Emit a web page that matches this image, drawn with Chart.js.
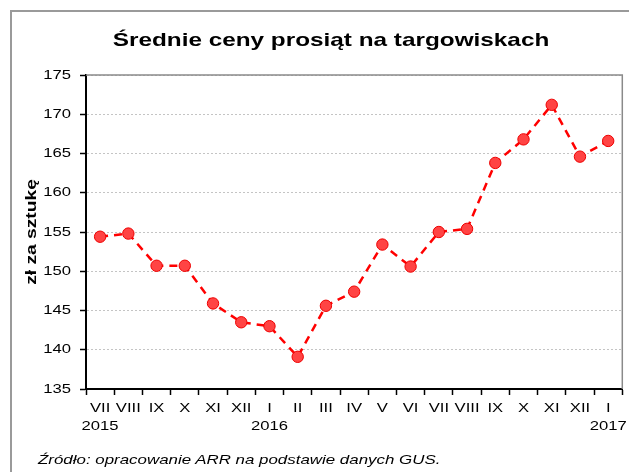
<!DOCTYPE html>
<html>
<head>
<meta charset="utf-8">
<script src="https://cdn.jsdelivr.net/npm/chart.js@4"></script>
<style>
  html, body { margin: 0; padding: 0; background: #fff; }
  body { width: 629px; height: 472px; position: relative; overflow: hidden; font-family: "Liberation Sans", Arial, sans-serif; }
  #frame { position: absolute; left: 10px; top: 10px; width: 640px; height: 480px; border-left: 2px solid #9a9a9a; border-top: 2px solid #9a9a9a; }
  #wrap { position: absolute; left: 0; top: 0; width: 629px; height: 472px; }
  #src { position: absolute; left: 38px; top: 452px; font-size: 13px; font-style: italic; color: #000; white-space: nowrap; transform: scaleX(1.3); transform-origin: left top; }
</style>
</head>
<body>
<div id="frame"></div>
<div id="wrap"><canvas id="chart" width="629" height="472"></canvas></div>
<div id="src">Źródło: opracowanie ARR na podstawie danych GUS.</div>
<script>
  // months VII 2015 .. I 2017
  const months = ['VII','VIII','IX','X','XI','XII','I','II','III','IV','V','VI','VII','VIII','IX','X','XI','XII','I'];
  const years  = ['2015','','','','','','2016','','','','','','','','','','','','2017'];
  const prices = [154.4, 154.8, 150.7, 150.7, 145.9, 143.5, 143.0, 139.1, 145.6, 147.4, 153.4, 150.6, 155.0, 155.4, 163.8, 166.8, 171.2, 164.6, 166.6];
  const yTicks = [135, 140, 145, 150, 155, 160, 165, 170, 175];
  const chartTitle = 'Średnie ceny prosiąt na targowiskach';

  const labels = months.map((m, i) => years[i] ? [m, years[i]] : m);

  const canvas = document.getElementById('chart');
  const ctx = canvas.getContext('2d');

  // the source picture has all text a bit wider than normal: stretch glyphs around their anchor
  const SX = 1.28;
  const rawFill = ctx.fillText.bind(ctx);
  ctx.fillText = function(t, x, y){
    this.save();
    this.translate(x, y);
    this.scale(SX, 1);
    rawFill(t, 0, 0);
    this.restore();
  };

  // gray top/right edges of the plot + title
  const plotEdge = {
    id: 'plotEdge',
    afterDraw(chart){
      const a = chart.chartArea, c = chart.ctx;
      c.save();
      c.strokeStyle = '#8a8a8a';
      c.lineWidth = 1.5;
      c.beginPath();
      c.moveTo(a.left, a.top);
      c.lineTo(a.right, a.top);
      c.lineTo(a.right, a.bottom);
      c.stroke();

      c.fillStyle = '#000';
      c.font = 'bold 19px "Liberation Sans"';
      c.textAlign = 'center';
      c.textBaseline = 'alphabetic';
      c.fillText(chartTitle, 331, 46);
      c.restore();
    }
  };

  new Chart(canvas, {
    type: 'line',
    data: {
      labels,
      datasets: [{
        data: prices,
        borderColor: '#ff0000',
        borderWidth: 2.5,
        borderDash: [8, 6],
        pointRadius: 5.7,
        pointHoverRadius: 5.7,
        pointBackgroundColor: '#ff4444',
        pointBorderColor: '#ee0000',
        pointBorderWidth: 1,
        tension: 0
      }]
    },
    options: {
      responsive: false,
      animation: false,
      events: [],
      layout: { padding: { left: 23, right: 5, top: 75, bottom: 0 } },
      plugins: {
        legend: { display: false },
        tooltip: { enabled: false },
        title: { display: false }
      },
      scales: {
        x: {
          offset: true,
          grid: { drawOnChartArea: false, drawTicks: true, tickLength: 6, tickColor: '#000', tickWidth: 1.5, offset: true },
          border: { color: '#000', width: 2 },
          ticks: { color: '#000', padding: 5, maxRotation: 0, autoSkip: false, font: { family: 'Liberation Sans', size: 13, lineHeight: 1.35 } },
          afterFit(s){ s.height = 83; }
        },
        y: {
          min: 135,
          max: 175,
          afterBuildTicks(s){ s.ticks = yTicks.map(v => ({ value: v })); },
          grid: { color: '#c4c4c4', lineWidth: 1, tickLength: 6, tickColor: '#000', tickWidth: 1.5 },
          border: { color: '#000', width: 2, dash: [2, 2] },
          ticks: { color: '#000', padding: 9, font: { family: 'Liberation Sans', size: 13 } },
          title: {
            display: true,
            text: 'zł za sztukę',
            color: '#000',
            font: { family: 'Liberation Sans', size: 15, weight: 'bold' },
            padding: { top: 0, bottom: 0 }
          },
          afterFit(s){ s.width = 63; }
        }
      }
    },
    plugins: [plotEdge]
  });
</script>
</body>
</html>
